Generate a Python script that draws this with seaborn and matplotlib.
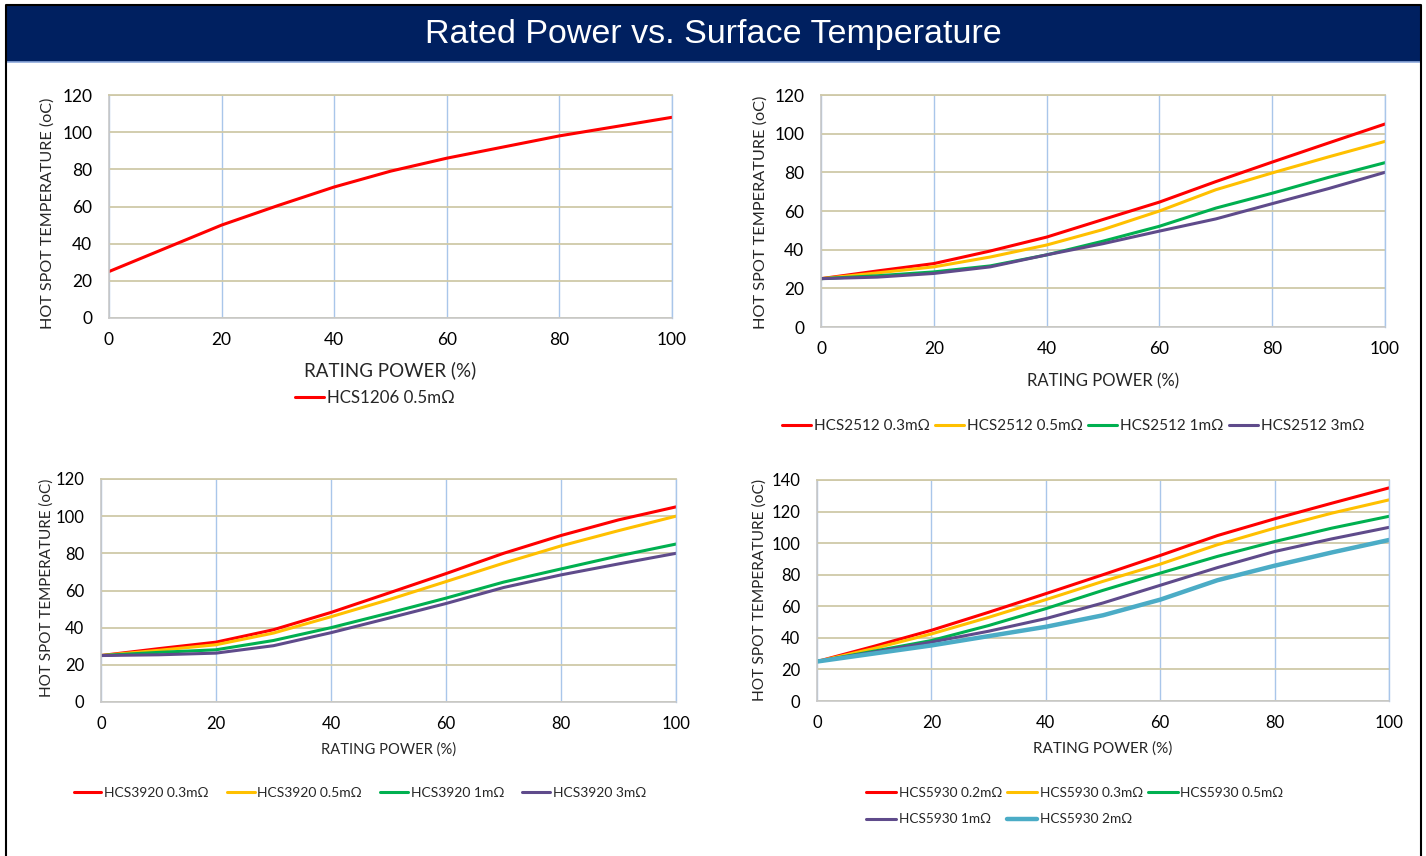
import numpy as np
import pandas as pd
import matplotlib
matplotlib.use("Agg")
import matplotlib.pyplot as plt
from matplotlib.patches import Rectangle
from matplotlib.lines import Line2D
import seaborn as sns

# ---------------- data ----------------
power = [0, 10, 20, 30, 40, 50, 60, 70, 80, 90, 100]

p1_labels = ["HCS1206 0.5mΩ"]
p1_vals = [[25, 37.5, 50, 60.5, 70.5, 79, 86, 92, 98, 103, 108]]

p2_labels = ["HCS2512 0.3mΩ", "HCS2512 0.5mΩ", "HCS2512 1mΩ", "HCS2512 3mΩ"]
p2_red = [25, 29, 32.8, 39.3, 46.5, 55.6, 64.6, 75.2, 85.3, 95.2, 105]
p2_yellow = [25, 28, 31.1, 36.2, 42.4, 50.4, 60, 71, 79.7, 88, 96]
p2_green = [25, 26.5, 28.5, 31.6, 37.3, 44.4, 52.1, 61.5, 69.2, 77.4, 85]
p2_purple = [25, 25.8, 27.7, 31.1, 37.3, 43.1, 49.6, 55.9, 63.8, 71.6, 80]

p3_labels = ["HCS3920 0.3mΩ", "HCS3920 0.5mΩ", "HCS3920 1mΩ", "HCS3920 3mΩ"]
p3_red = [25, 28.7, 32.2, 38.9, 48.2, 58.6, 69.1, 80, 89.6, 98, 105]
p3_yellow = [25, 27.8, 30.8, 37.1, 45.9, 55, 64.8, 74.7, 84, 92.2, 100]
p3_green = [25, 26.7, 28.1, 33.1, 40, 47.8, 55.9, 64.5, 71.6, 78.6, 85]
p3_purple = [25, 25.4, 26.3, 30.3, 37.3, 45.1, 53, 61.6, 68.4, 74.3, 80]

p4_labels = ["HCS5930 0.2mΩ", "HCS5930 0.3mΩ", "HCS5930 0.5mΩ", "HCS5930 1mΩ", "HCS5930 2mΩ"]
p4_red = [25, 34.7, 44.8, 56.2, 68, 80, 92.2, 104.8, 115.4, 125.3, 135]
p4_yellow = [25, 33.3, 42.5, 53, 64.2, 75.8, 86.7, 99, 109.5, 119, 127.4]
p4_green = [25, 31.6, 38.3, 47.8, 58.5, 70.1, 81, 91.6, 101, 109.5, 117]
p4_purple = [25, 31, 37.3, 44.2, 52.2, 62.1, 73.3, 84.5, 94.7, 102.7, 110]
p4_cyan = [25, 30.1, 35.2, 41.1, 47, 54.3, 64.2, 76.5, 85.7, 94.1, 102]

x_ticks = [0, 20, 40, 60, 80, 100]
title = "Rated Power vs. Surface Temperature"
xlabel = "RATING POWER (%)"
ylabel = "HOT SPOT TEMPERATURE (oC)"

RED, YEL, GRN, PUR, CYN = "#FF0000", "#FFC000", "#00B050", "#5F4B8B", "#4BACC6"

# ---------------- style ----------------
sns.set_style("white")
plt.rcParams["font.family"] = ["Lato", "DejaVu Sans"]

W, H = 1426, 856
fig = plt.figure(figsize=(W / 100, H / 100), dpi=100)

def px_axes(l, r, t, b):
    return fig.add_axes([l / W, 1 - b / H, (r - l) / W, (b - t) / H])

def build(labels, series):
    rows = []
    for lab, vals in zip(labels, series):
        for x, y in zip(power, vals):
            rows.append({"power": x, "temp": y, "series": lab})
    return pd.DataFrame(rows)

def panel(box, labels, series, colors, widths, ymax, fs_tick, fs_xlab, fs_ylab,
          xlab_y, ylab_x, ylab_y, leg_xy, leg_fs, ncol, colsp, hlen,
          lspace=0.9, order=None):
    ax = px_axes(*box)
    df = build(labels, series)
    pal = dict(zip(labels, colors))
    sns.lineplot(data=df, x="power", y="temp", hue="series", hue_order=labels,
                 palette=pal, ax=ax, legend=False, sort=True)
    for ln, w in zip(ax.get_lines(), widths):
        ln.set_linewidth(w)
        ln.set_solid_joinstyle("round")
    ax.set_xlim(0, 100)
    ax.set_ylim(0, ymax)
    ax.set_xticks(x_ticks)
    ax.set_yticks(np.arange(0, ymax + 1, 20))
    ax.grid(axis="y", color="#CFC9A8", lw=1.3)
    ax.grid(axis="x", color="#A9C6EA", lw=1.0)
    ax.set_axisbelow(True)
    for s in ["left", "bottom"]:
        ax.spines[s].set_color("#C8C8C8")
        ax.spines[s].set_linewidth(1.2)
    ax.spines["top"].set_color("#CFC9A8")
    ax.spines["top"].set_linewidth(1.3)
    ax.spines["right"].set_color("#A9C6EA")
    ax.spines["right"].set_linewidth(1.0)
    ax.tick_params(length=0, labelsize=fs_tick, colors="black")
    ax.tick_params(axis="y", pad=12)
    ax.tick_params(axis="x", pad=10)
    ax.set_xlabel(xlabel, fontsize=fs_xlab)
    ax.set_ylabel(ylabel, fontsize=fs_ylab)
    ax.xaxis.label.set_va("center")
    ax.yaxis.label.set_va("center")
    ax.xaxis.set_label_coords(0.5, xlab_y)
    ax.yaxis.set_label_coords(ylab_x, ylab_y)
    handles = [Line2D([], [], color=c, lw=w) for c, w in zip(colors, widths)]
    labs = list(labels)
    if order is not None:
        handles = [handles[i] for i in order]
        labs = [labs[i] for i in order]
    fig.legend(handles, labs, loc="center", bbox_to_anchor=leg_xy,
               ncol=ncol, frameon=False, fontsize=leg_fs, handlelength=hlen,
               handletextpad=0.2, columnspacing=colsp, labelspacing=lspace)
    return ax

panel((109, 672, 95, 318), p1_labels, p1_vals, [RED], [2.2], 120,
      12.5, 13.5, 11.6, -0.233, -0.110, 0.47, (375 / W, 1 - 398 / H), 12.2, 1, 1, 1.7)

panel((821, 1385, 95, 327), p2_labels, [p2_red, p2_yellow, p2_green, p2_purple],
      [RED, YEL, GRN, PUR], [2.2, 2.2, 2.2, 2.2], 120,
      12.5, 12, 11.7, -0.233, -0.108, 0.496, (1073 / W, 1 - 426 / H), 11.0, 4, 0.35, 1.9)

panel((101, 676, 479, 702), p3_labels, [p3_red, p3_yellow, p3_green, p3_purple],
      [RED, YEL, GRN, PUR], [2.2, 2.2, 2.2, 2.2], 120,
      12, 10.6, 11, -0.215, -0.094, 0.51, (360 / W, 1 - 793 / H), 10.0, 4, 1.3, 2.0)

panel((817, 1389, 480, 701), p4_labels, [p4_red, p4_yellow, p4_green, p4_purple, p4_cyan],
      [RED, YEL, GRN, PUR, CYN], [2.2, 2.2, 2.2, 2.2, 3.2], 140,
      12, 11, 11.2, -0.213, -0.0997, 0.502, (1075 / W, 1 - 806 / H), 9.8, 3, 0.35, 2.2,
      lspace=1.1, order=[0, 3, 1, 4, 2])

# ---------------- title bar & frame ----------------
fig.patches.append(Rectangle((6 / W, 1 - 62 / H), (1421 - 6) / W, 57 / H,
                             transform=fig.transFigure, facecolor="#002060",
                             edgecolor="none", zorder=0))
fig.lines.append(Line2D([6 / W, 1421 / W], [1 - 62 / H, 1 - 62 / H],
                        transform=fig.transFigure, color="#8EA9DB", lw=1.2))
fig.lines.append(Line2D([6 / W, 6 / W, 1421 / W, 1421 / W],
                        [0, 1 - 5 / H, 1 - 5 / H, 0],
                        transform=fig.transFigure, color="black", lw=1.5))
fig.text(713 / W, 1 - 35 / H, title, ha="center", va="center", color="white",
         fontsize=24.5, family=["Liberation Sans", "DejaVu Sans"])

fig.savefig("out.png", dpi=100, facecolor="white")
